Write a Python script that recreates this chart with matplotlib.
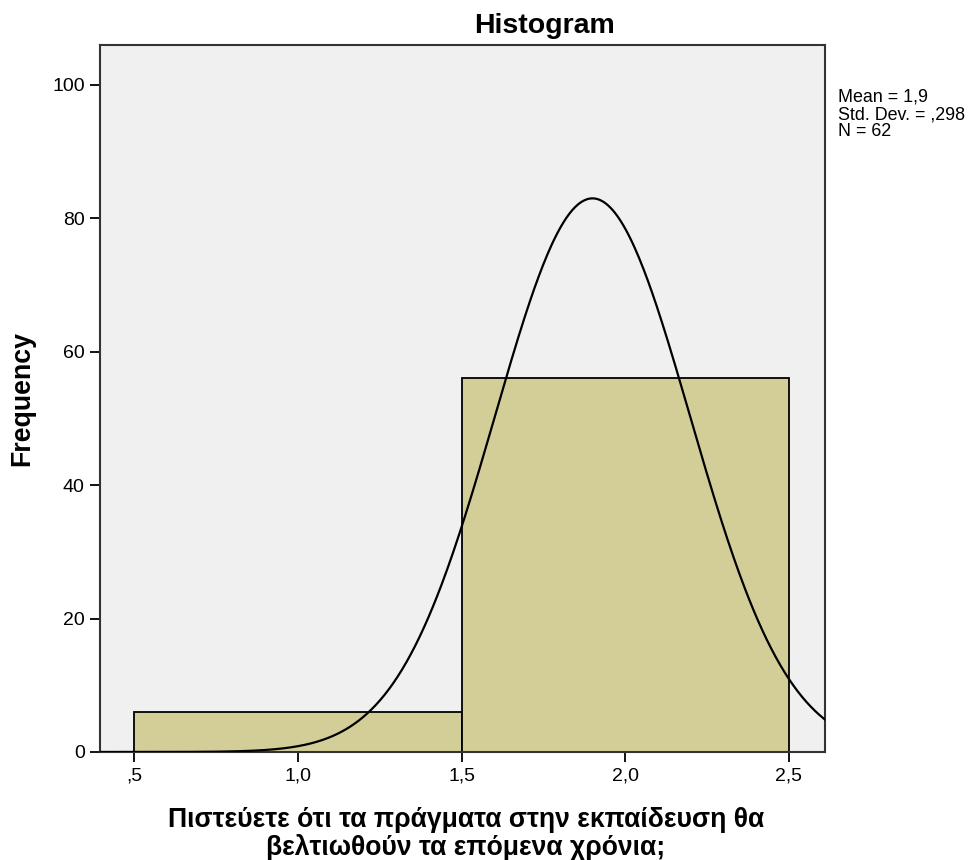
import numpy as np
import matplotlib
matplotlib.use("Agg")
import matplotlib.pyplot as plt

plt.rcParams['font.family'] = ['Liberation Sans', 'DejaVu Sans']

# Data
bin_edges = [0.5, 1.5, 2.5]
bin_counts = [6, 56]
mean_val = 1.9
std_val = 0.298
n_val = 62
x_ticks = [0.5, 1.0, 1.5, 2.0, 2.5]
x_tick_labels = [",5", "1,0", "1,5", "2,0", "2,5"]
y_ticks = [0, 20, 40, 60, 80, 100]
title = "Histogram"
xlabel = "Πιστεύετε ότι τα πράγματα στην εκπαίδευση θα\nβελτιωθούν τα επόμενα χρόνια;"
ylabel = "Frequency"
stats_text = "Mean = 1,9\nStd. Dev. = ,298\nN = 62"

fig = plt.figure(figsize=(9.77, 8.6), dpi=100)
ax = fig.add_axes([0.1024, 0.1256, 0.8444 - 0.1024, 0.9477 - 0.1256])
ax.set_facecolor('#F0F0F0')

lefts = bin_edges[:-1]
widths = np.diff(bin_edges)
ax.bar(lefts, bin_counts, width=widths, align='edge', color='#D3CE98',
       edgecolor='black', linewidth=1.3, zorder=2)

xlim = (0.396, 2.61)
xs = np.linspace(xlim[0], xlim[1], 500)
binw = widths[0]
ys = n_val * binw / (std_val * np.sqrt(2 * np.pi)) * np.exp(-0.5 * ((xs - mean_val) / std_val) ** 2)
ax.plot(xs, ys, color='black', linewidth=1.6, zorder=3)

ax.set_xlim(*xlim)
ax.set_ylim(0, 106)
ax.set_xticks(x_ticks)
ax.set_xticklabels(x_tick_labels)
ax.set_yticks(y_ticks)
ax.tick_params(axis='both', direction='out', length=7, width=1.3, labelsize=14,
               colors='black', pad=4)
for s in ax.spines.values():
    s.set_linewidth(1.5)
    s.set_color('#333333')

fig.text(544 / 977, 1 - 26 / 860, title, fontsize=20.5, fontweight='bold',
         ha='center', va='center')
fig.text(466 / 977, 1 - 834 / 860, xlabel, fontsize=19.1, fontweight='bold',
         ha='center', va='center', linespacing=1.02)
fig.text(22 / 977, 1 - 399 / 860, ylabel, fontsize=19.3, fontweight='bold',
         ha='center', va='center', rotation=90)

fig.text(838 / 977, 1 - 89 / 860, stats_text, fontsize=12.9, va='top', ha='left',
         linespacing=1.0)

fig.savefig("out.png", dpi=100)
